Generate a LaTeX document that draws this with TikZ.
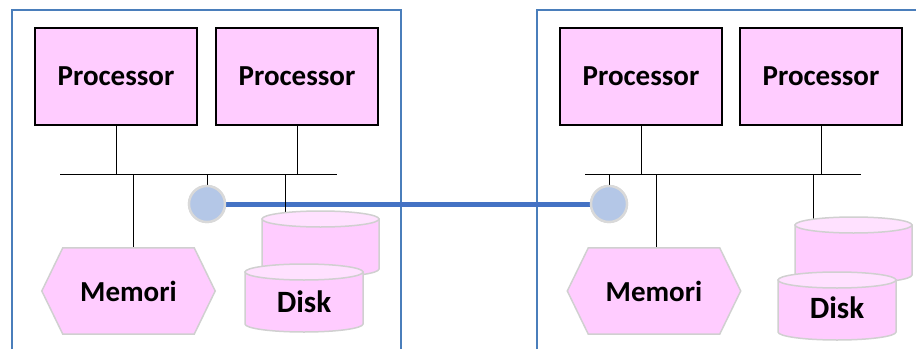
\documentclass[tikz,border=0pt]{standalone}
\usepackage{fontspec}
\setmainfont{Carlito}
\definecolor{frameblue}{HTML}{4A7EBB}
\definecolor{linkblue}{HTML}{4472C4}
\definecolor{pinkfill}{HTML}{FFCCFF}
\definecolor{pinktop}{HTML}{FFE1FF}
\definecolor{softgray}{HTML}{D0D0D0}
\definecolor{nicfill}{HTML}{B4C7E7}
\definecolor{nicedge}{HTML}{D9D9D9}
\tikzset{
 frame/.style={draw=frameblue, line width=2.4pt},
 proc/.style={draw=black, line width=1.7pt, fill=pinkfill, minimum width=162pt, minimum height=97pt, inner sep=0pt, font=\fontsize{29}{30}\selectfont\bfseries},
 bus/.style={draw=black, line width=1pt},
 memtext/.style={inner sep=0pt, minimum width=131pt, minimum height=86pt, font=\fontsize{29}{30}\selectfont\bfseries},
 memshape/.style={draw=softgray, line width=1.5pt, fill=pinkfill},
 nic/.style={circle, fill=nicfill, draw=nicedge, line width=2.4pt, minimum size=36pt, inner sep=0pt},
 link/.style={draw=linkblue, line width=5pt},
 diskbody/.style={draw=softgray, line width=1.5pt, fill=pinkfill},
 disktop/.style={draw=softgray, line width=1.5pt, fill=pinktop},
 disklabel/.style={font=\fontsize{31}{32}\selectfont\bfseries, inner sep=0pt},
}
\newcommand\drawdisk[4]{%
 \path[diskbody] ({#1-#2},#3) -- ({#1-#2},#4) arc[start angle=180, end angle=360, x radius=#2pt, y radius=8pt] -- ({#1+#2},#3) -- cycle;
 \path[disktop] (#1,#3) ellipse[x radius=#2pt, y radius=8pt];
}
\newcommand\drawhex[1]{%
 \path[memshape] (#1.north west) -- (#1.north east) -- ([xshift=21pt]#1.east) -- (#1.south east) -- (#1.south west) -- ([xshift=-21pt]#1.west) -- cycle;
}
\begin{document}
\begin{tikzpicture}[x=1pt,y=1pt]
\useasboundingbox (0,0) rectangle (916,349);
% frames
\draw[frame] (12,0) -- (12,339) -- (401,339) -- (401,0);
\draw[frame] (537,0) -- (537,339) -- (916,339);
% buses
\coordinate (busL1) at (60,175);
\coordinate (busL2) at (337,175);
\coordinate (busR1) at (585,175);
\coordinate (busR2) at (861,175);
\draw[bus] (busL1) -- (busL2);
\draw[bus] (busR1) -- (busR2);
% processors
\node[proc] (p1) at (116,272.5) {Processor};
\node[proc] (p2) at (297,272.5) {Processor};
\node[proc] (p3) at (641,272.5) {Processor};
\node[proc] (p4) at (821,272.5) {Processor};
\draw[bus] (p1.south) -- (p1.south |- busL1);
\draw[bus] (p2.south) -- (p2.south |- busL1);
\draw[bus] (p3.south) -- (p3.south |- busR1);
\draw[bus] (p4.south) -- (p4.south |- busR1);
% network interfaces
\node[nic] (nicL) at (207,145) {};
\node[nic] (nicR) at (609,145) {};
\draw[bus] (nicL.north) -- (nicL.north |- busL1);
\draw[bus] (nicR.north) -- (nicR.north |- busR1);
\draw[link] (nicL.east) -- (nicR.west);
\node[nic] at (nicL) {};
\node[nic] at (nicR) {};
% memory
\node[memtext] (memL) at (128.5,58) {};
\node[memtext] (memR) at (654,58) {};
\draw[bus] ([xshift=4.5pt]memL.north) -- ([xshift=4.5pt]memL.north |- busL1);
\draw[bus] ([xshift=2pt]memR.north) -- ([xshift=2pt]memR.north |- busR1);
\drawhex{memL}
\drawhex{memR}
\node[memtext] at (memL) {Memori};
\node[memtext] at (memR) {Memori};
% disks
\coordinate (dkL) at (285,134);
\coordinate (dkR) at (813,128);
\draw[bus] (dkL) -- (dkL |- busL1);
\draw[bus] (dkR) -- (dkR |- busR1);
\drawdisk{320.5}{58.5}{130}{80}
\drawdisk{304}{59}{77}{25}
\drawdisk{853.5}{58.5}{124}{74}
\drawdisk{837}{59}{69}{17}
\node[disklabel] (diskL) at (304,47) {Disk};
\node[disklabel] (diskR) at (837,41) {Disk};
\end{tikzpicture}
\end{document}
